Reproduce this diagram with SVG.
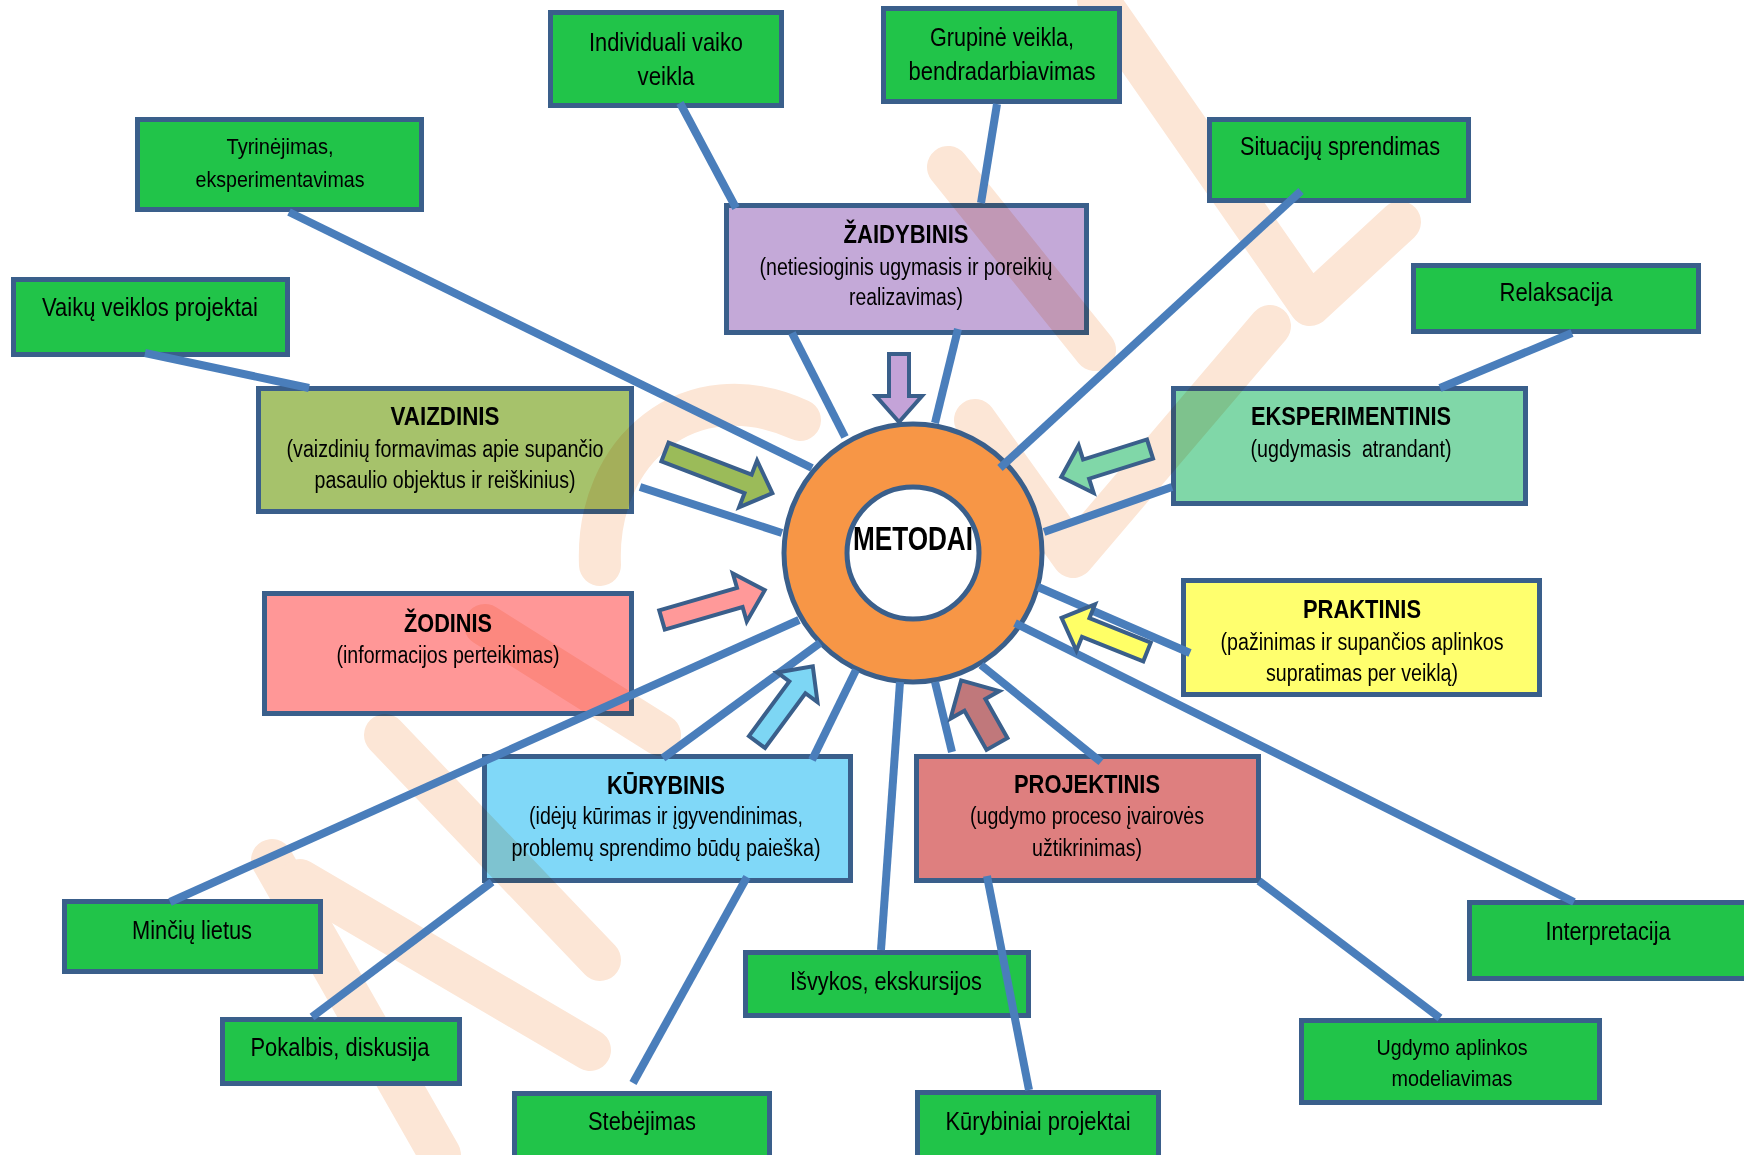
<svg xmlns="http://www.w3.org/2000/svg" width="1744" height="1155" viewBox="0 0 1744 1155">
<style>
.bx{stroke:#3A5F8B;stroke-width:5}
.g{fill:#21C449}
.m{mix-blend-mode:multiply}
.t{font-family:"Liberation Sans Narrow","Liberation Sans",Arial,sans-serif;fill:#000;text-anchor:middle;dominant-baseline:central}
.s24{font-size:26px}
.s22{font-size:23px}
.s21{font-size:22px}
.b{font-weight:bold;font-size:25px}
.ln{stroke:#4A7EBB;stroke-width:8;fill:none}
.ar{stroke:#3A5F8B;stroke-width:4;stroke-linejoin:miter}
.wm{stroke:#FCE6D6;stroke-width:42;fill:none;stroke-linecap:round;stroke-linejoin:round}
</style>
<rect width="1744" height="1155" fill="#fff"/>

<g id="watermark">
<path class="wm" d="M1098,0L1310,305L1400,222"/>
<path class="wm" d="M948,167L1095,350"/>
<path class="wm" d="M975,420L1073,557L1270,326"/>
<path class="wm" d="M600,565C595,450 690,370 800,420"/>
<path class="wm" d="M485,625L660,735"/>
<path class="wm" d="M272,860L440,1155"/>
<path class="wm" d="M385,735L600,960"/>
<path class="wm" d="M300,880L590,1050"/>
</g>

<g id="ring">
<path d="M784,553a129,129 0 1,0 258,0a129,129 0 1,0 -258,0ZM847,553a66,66 0 1,0 132,0a66,66 0 1,0 -132,0Z" fill="#F79646" fill-rule="evenodd" stroke="#3A5F8B" stroke-width="5"/>
<text class="t" x="913" y="538" font-size="33" font-weight="bold" textLength="120" lengthAdjust="spacingAndGlyphs">METODAI</text>
</g>

<g id="n-individuali"><rect class="bx g" x="550.5" y="12.5" width="231" height="93"/>
<text class="t s24" x="666" y="42" textLength="154" lengthAdjust="spacingAndGlyphs">Individuali vaiko</text>
<text class="t s24" x="666" y="76" textLength="57" lengthAdjust="spacingAndGlyphs">veikla</text></g>

<g id="n-grupine"><rect class="bx g" x="883.5" y="8.5" width="236" height="93"/>
<text class="t s24" x="1002" y="37" textLength="144" lengthAdjust="spacingAndGlyphs">Grupinė veikla,</text>
<text class="t s24" x="1002" y="71" textLength="187" lengthAdjust="spacingAndGlyphs">bendradarbiavimas</text></g>

<g id="n-tyrinejimas"><rect class="bx g" x="137.5" y="119.5" width="284" height="90"/>
<text class="t s21" x="280" y="146" textLength="107" lengthAdjust="spacingAndGlyphs">Tyrinėjimas,</text>
<text class="t s21" x="280" y="179" textLength="169" lengthAdjust="spacingAndGlyphs">eksperimentavimas</text></g>

<g id="n-situaciju"><rect class="bx g" x="1209.5" y="119.5" width="259" height="81"/>
<text class="t s24" x="1340" y="146" textLength="200" lengthAdjust="spacingAndGlyphs">Situacijų sprendimas</text></g>

<g id="n-vaiku"><rect class="bx g" x="13.5" y="279.5" width="274" height="75"/>
<text class="t s24" x="150" y="307" textLength="216" lengthAdjust="spacingAndGlyphs">Vaikų veiklos projektai</text></g>

<g id="n-relaksacija"><rect class="bx g" x="1413.5" y="265.5" width="285" height="66"/>
<text class="t s24" x="1556" y="292" textLength="113" lengthAdjust="spacingAndGlyphs">Relaksacija</text></g>

<g id="n-zaidybinis"><rect class="bx m" fill="#C4A9D8" x="726.5" y="205.5" width="360" height="127"/>
<text class="t b" x="906" y="234" textLength="125" lengthAdjust="spacingAndGlyphs">ŽAIDYBINIS</text>
<text class="t s22" x="906" y="267" textLength="293" lengthAdjust="spacingAndGlyphs">(netiesioginis ugymasis ir poreikių</text>
<text class="t s22" x="906" y="297" textLength="114" lengthAdjust="spacingAndGlyphs">realizavimas)</text></g>

<g id="n-vaizdinis"><rect class="bx m" fill="#A6C26B" x="258.5" y="388.5" width="373" height="123"/>
<text class="t b" x="445" y="416" textLength="109" lengthAdjust="spacingAndGlyphs">VAIZDINIS</text>
<text class="t s22" x="445" y="449" textLength="317" lengthAdjust="spacingAndGlyphs">(vaizdinių formavimas apie supančio</text>
<text class="t s22" x="445" y="480" textLength="261" lengthAdjust="spacingAndGlyphs">pasaulio objektus ir reiškinius)</text></g>

<g id="n-eksperimentinis"><rect class="bx m" fill="#80D7A8" x="1173.5" y="388.5" width="352" height="115"/>
<text class="t b" x="1351" y="416" textLength="200" lengthAdjust="spacingAndGlyphs">EKSPERIMENTINIS</text>
<text class="t s22" x="1351" y="449" textLength="201" lengthAdjust="spacingAndGlyphs" xml:space="preserve">(ugdymasis  atrandant)</text></g>

<g id="n-zodinis"><rect class="bx m" fill="#FF9797" x="264.5" y="593.5" width="367" height="120"/>
<text class="t b" x="448" y="623" textLength="88" lengthAdjust="spacingAndGlyphs">ŽODINIS</text>
<text class="t s22" x="448" y="655" textLength="223" lengthAdjust="spacingAndGlyphs">(informacijos perteikimas)</text></g>

<g id="n-praktinis"><rect class="bx m" fill="#FFFF6E" x="1183.5" y="580.5" width="356" height="114"/>
<text class="t b" x="1362" y="609" textLength="118" lengthAdjust="spacingAndGlyphs">PRAKTINIS</text>
<text class="t s22" x="1362" y="642" textLength="283" lengthAdjust="spacingAndGlyphs">(pažinimas ir supančios aplinkos</text>
<text class="t s22" x="1362" y="673" textLength="192" lengthAdjust="spacingAndGlyphs">supratimas per veiklą)</text></g>

<g id="n-kurybinis"><rect class="bx m" fill="#80D8F8" x="484.5" y="756.5" width="366" height="124"/>
<text class="t b" x="666" y="785" textLength="118" lengthAdjust="spacingAndGlyphs">KŪRYBINIS</text>
<text class="t s22" x="666" y="816" textLength="274" lengthAdjust="spacingAndGlyphs">(idėjų kūrimas ir įgyvendinimas,</text>
<text class="t s22" x="666" y="848" textLength="309" lengthAdjust="spacingAndGlyphs">problemų sprendimo būdų paieška)</text></g>

<g id="n-projektinis"><rect class="bx m" fill="#DE7F7F" x="916.5" y="756.5" width="342" height="124"/>
<text class="t b" x="1087" y="784" textLength="146" lengthAdjust="spacingAndGlyphs">PROJEKTINIS</text>
<text class="t s22" x="1087" y="816" textLength="234" lengthAdjust="spacingAndGlyphs">(ugdymo proceso įvairovės</text>
<text class="t s22" x="1087" y="848" textLength="110" lengthAdjust="spacingAndGlyphs">užtikrinimas)</text></g>

<g id="n-minciu"><rect class="bx g" x="64.5" y="901.5" width="256" height="70"/>
<text class="t s24" x="192" y="930" textLength="120" lengthAdjust="spacingAndGlyphs">Minčių lietus</text></g>

<g id="n-pokalbis"><rect class="bx g" x="222.5" y="1019.5" width="237" height="64"/>
<text class="t s24" x="340" y="1047" textLength="179" lengthAdjust="spacingAndGlyphs">Pokalbis, diskusija</text></g>

<g id="n-isvykos"><rect class="bx g" x="745.5" y="952.5" width="283" height="63"/>
<text class="t s24" x="886" y="981" textLength="192" lengthAdjust="spacingAndGlyphs">Išvykos, ekskursijos</text></g>

<g id="n-interpretacija"><rect class="bx g" x="1469.5" y="902.5" width="290" height="76"/>
<text class="t s24" x="1608" y="931" textLength="125" lengthAdjust="spacingAndGlyphs">Interpretacija</text></g>

<g id="n-ugdymo"><rect class="bx g" x="1301.5" y="1020.5" width="298" height="82"/>
<text class="t s21" x="1452" y="1047" textLength="151" lengthAdjust="spacingAndGlyphs">Ugdymo aplinkos</text>
<text class="t s21" x="1452" y="1078" textLength="121" lengthAdjust="spacingAndGlyphs">modeliavimas</text></g>

<g id="n-stebejimas"><rect class="bx g" x="514.5" y="1093.5" width="255" height="70"/>
<text class="t s24" x="642" y="1121" textLength="108" lengthAdjust="spacingAndGlyphs">Stebėjimas</text></g>

<g id="n-kurybiniai"><rect class="bx g" x="917.5" y="1092.5" width="241" height="70"/>
<text class="t s24" x="1038" y="1121" textLength="185" lengthAdjust="spacingAndGlyphs">Kūrybiniai projektai</text></g>

<g id="connectors">
<line class="ln" x1="680" y1="103" x2="736" y2="208"/>
<line class="ln" x1="997" y1="104" x2="981" y2="203"/>
<line class="ln" x1="289" y1="212" x2="812" y2="468"/>
<line class="ln" x1="145" y1="353" x2="309" y2="388"/>
<line class="ln" x1="792" y1="333" x2="845" y2="437"/>
<line class="ln" x1="958" y1="329" x2="935" y2="423"/>
<line class="ln" x1="1301" y1="191" x2="1000" y2="468"/>
<line class="ln" x1="1572" y1="333" x2="1440" y2="388"/>
<line class="ln" x1="640" y1="487" x2="782" y2="533"/>
<line class="ln" x1="1044" y1="532" x2="1172" y2="487"/>
<line class="ln" x1="1038" y1="587" x2="1190" y2="653"/>
<line class="ln" x1="1015" y1="623" x2="1574" y2="902"/>
<line class="ln" x1="799" y1="620" x2="170" y2="902"/>
<line class="ln" x1="820" y1="643" x2="663" y2="758"/>
<line class="ln" x1="856" y1="670" x2="812" y2="760"/>
<line class="ln" x1="900" y1="682" x2="881" y2="950"/>
<line class="ln" x1="935" y1="682" x2="952" y2="752"/>
<line class="ln" x1="981" y1="665" x2="1101" y2="762"/>
<line class="ln" x1="492" y1="882" x2="312" y2="1017"/>
<line class="ln" x1="747" y1="877" x2="633" y2="1083"/>
<line class="ln" x1="987" y1="876" x2="1029" y2="1090"/>
<line class="ln" x1="1259" y1="881" x2="1440" y2="1018"/>
</g>

<g id="arrows">
<path class="ar" fill="#C4A3D8" transform="translate(899,354) rotate(90)" d="M0,-10H42V-23L68,0L42,23V10H0Z"/>
<path class="ar" fill="#9BBB59" transform="translate(665,452) rotate(21)" d="M0,-10H89V-25L115,0L89,25V10H0Z"/>
<path class="ar" fill="#FF9999" transform="translate(662,620) rotate(-16.2)" d="M0,-10H81V-25L107,0L81,25V10H0Z"/>
<path class="ar" fill="#7DD6F4" transform="translate(757,742) rotate(-53.6)" d="M0,-10H68V-25L94,0L68,25V10H0Z"/>
<path class="ar" fill="#C0787B" transform="translate(997,744) rotate(-119.4)" d="M0,-12H45V-28L73,0L45,28V12H0Z"/>
<path class="ar" fill="#FFFF66" transform="translate(1147,652) rotate(-158.2)" d="M0,-10H66V-25L92,0L66,25V10H0Z"/>
<path class="ar" fill="#80D7A8" transform="translate(1150,449) rotate(162.5)" d="M0,-10H67V-25L93,0L67,25V10H0Z"/>
</g>
</svg>
